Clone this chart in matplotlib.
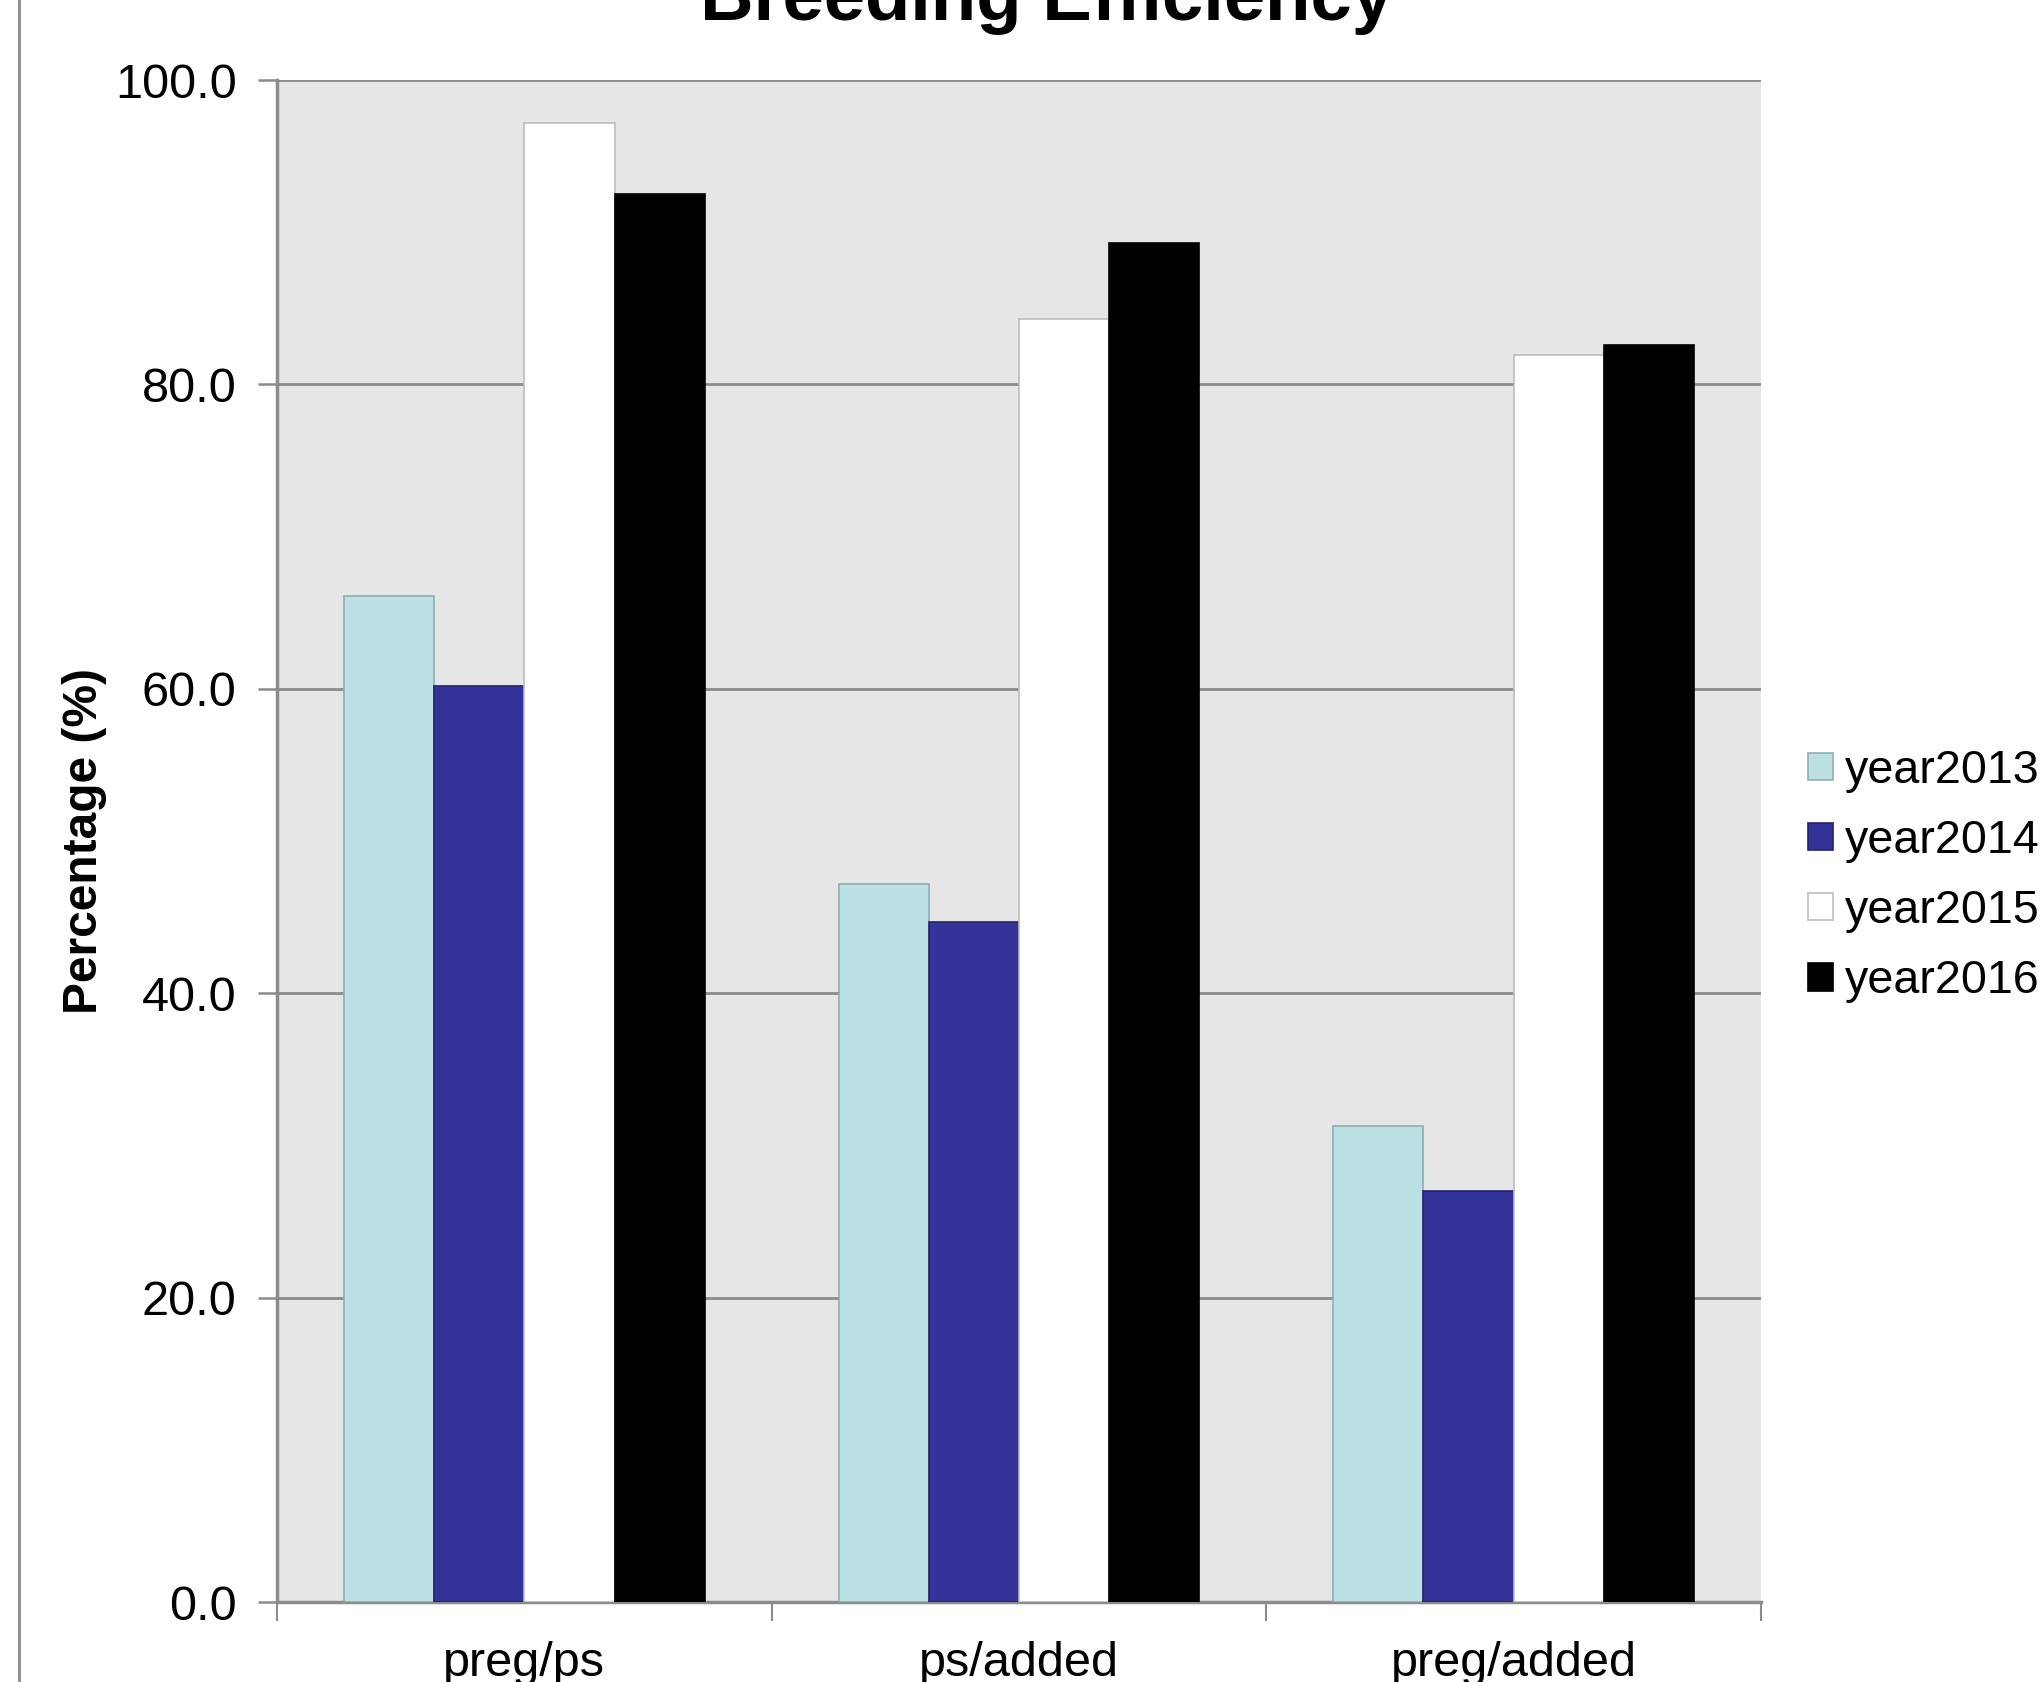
import matplotlib
matplotlib.use("Agg")
import matplotlib.pyplot as plt
import numpy as np
from matplotlib.lines import Line2D

categories = ["preg/ps", "ps/added", "preg/added"]
series_names = ["year2013", "year2014", "year2015", "year2016"]
year2013 = [66.1, 47.2, 31.3]
year2014 = [60.2, 44.7, 27.0]
year2015 = [97.2, 84.3, 81.9]
year2016 = [92.5, 89.3, 82.6]
yticks = [0, 20, 40, 60, 80, 100]

values = [year2013, year2014, year2015, year2016]
faces = ["#BBE0E3", "#333399", "#FFFFFF", "#000000"]
edges = ["#8FAEB1", "#23236E", "#BDBDBD", "#000000"]

plt.rcParams["font.family"] = ["Liberation Sans", "DejaVu Sans"]

W, H = 2041, 1682
fig = plt.figure(figsize=(W / 100, H / 100), dpi=100)
ax = fig.add_axes([277 / W, 1 - 1602 / H, (1761 - 277) / W, (1602 - 80) / H])
ax.set_facecolor("#E6E6E6")

x = np.arange(len(categories))
bw = 0.1823
for i, (vals, fc, ec, name) in enumerate(zip(values, faces, edges, series_names)):
    ax.bar(x + (i - 1.5) * bw, vals, width=bw, color=fc, edgecolor=ec,
           linewidth=1.2, label=name, zorder=3)

ax.set_xlim(-0.5, len(categories) - 0.5)
ax.set_ylim(0, 100)
ax.set_yticks(yticks)
ax.set_yticklabels([f"{v:.1f}" for v in yticks])
ax.yaxis.grid(True, color="#8C8C8C", linewidth=2.0, zorder=1)
ax.set_axisbelow(True)

ax.set_xticks(x)
ax.set_xticklabels(categories)
ax.set_xticks(np.arange(-0.5, len(categories)), minor=True)
ax.tick_params(axis="x", which="major", length=0, pad=28, labelsize=35)
ax.tick_params(axis="x", which="minor", length=14, width=1.5, color="#8C8C8C")
ax.tick_params(axis="y", length=14, width=1.8, color="#8C8C8C", pad=15, labelsize=35)

for side in ["top", "right"]:
    ax.spines[side].set_visible(False)
for side in ["left", "bottom"]:
    ax.spines[side].set_color("#8C8C8C")
    ax.spines[side].set_linewidth(2.5)

ax.set_ylabel("Percentage (%)", fontsize=34.5, fontweight="bold")
ax.yaxis.set_label_coords(-(277 - 107) / (1761 - 277), 0.5)

fig.text(1046 / W, 1 - 20 / H, "Breeding Efficiency", ha="center", va="baseline",
         fontsize=53.5, fontweight="bold")

leg = ax.legend(loc="upper left", bbox_to_anchor=(1808 / W, 1 - 749 / H),
                bbox_transform=fig.transFigure, frameon=False, fontsize=33.6,
                handlelength=0.53, handleheight=0.53, handletextpad=0.26,
                labelspacing=0.56, borderaxespad=0, borderpad=0)

# outer chart frame on the left
fig.add_artist(Line2D([19 / W, 19 / W], [0, 1], transform=fig.transFigure,
                      color="#8C8C8C", linewidth=2))

fig.savefig("out.png", dpi=100)
